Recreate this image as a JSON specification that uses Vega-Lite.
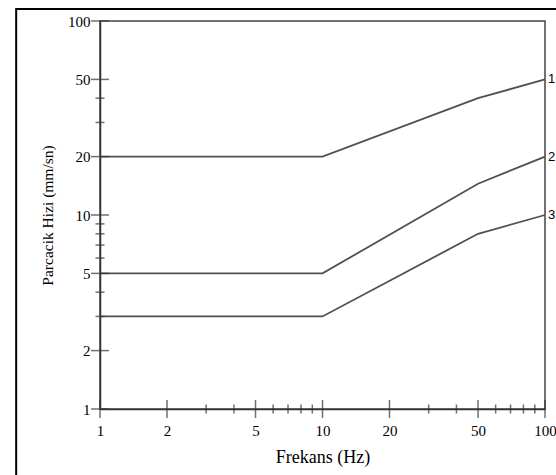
{
  "$schema": "https://vega.github.io/schema/vega-lite/v6.json",
  "width": 445,
  "height": 388,
  "autosize": {"type": "none"},
  "padding": {"left": 100, "top": 21, "right": 11, "bottom": 66},
  "background": "white",
  "config": {
    "view": {"stroke": "#444", "strokeWidth": 1.5},
    "axis": {
      "grid": false,
      "ticks": false,
      "tickSize": 0,
      "domainColor": "#333",
      "domainWidth": 1.5,
      "labelFont": "Liberation Serif",
      "labelColor": "black",
      "labelFontSize": 15,
      "labelOverlap": false,
      "labelFlush": false,
      "titleFont": "Liberation Serif",
      "titleColor": "black",
      "titleFontWeight": "normal"
    }
  },
  "datasets": {
    "lines": [
      {"series": "1", "freq": 1, "v": 20},
      {"series": "1", "freq": 10, "v": 20},
      {"series": "1", "freq": 50, "v": 40},
      {"series": "1", "freq": 100, "v": 50},
      {"series": "2", "freq": 1, "v": 5},
      {"series": "2", "freq": 10, "v": 5},
      {"series": "2", "freq": 50, "v": 14.5},
      {"series": "2", "freq": 100, "v": 20},
      {"series": "3", "freq": 1, "v": 3},
      {"series": "3", "freq": 10, "v": 3},
      {"series": "3", "freq": 50, "v": 8},
      {"series": "3", "freq": 100, "v": 10}
    ],
    "yticks": [
      {"v": 1, "kind": "major"}, {"v": 2, "kind": "major"}, {"v": 3, "kind": "minor"},
      {"v": 4, "kind": "minor"}, {"v": 5, "kind": "major"}, {"v": 6, "kind": "minor"},
      {"v": 7, "kind": "minor"}, {"v": 8, "kind": "minor"}, {"v": 9, "kind": "minor"},
      {"v": 10, "kind": "major"}, {"v": 20, "kind": "major"}, {"v": 30, "kind": "minor"},
      {"v": 40, "kind": "minor"}, {"v": 50, "kind": "major"}, {"v": 100, "kind": "major"}
    ],
    "xticks": [
      {"v": 1, "kind": "major"}, {"v": 2, "kind": "major"}, {"v": 3, "kind": "minor"},
      {"v": 4, "kind": "minor"}, {"v": 5, "kind": "major"}, {"v": 6, "kind": "minor"},
      {"v": 7, "kind": "minor"}, {"v": 8, "kind": "minor"}, {"v": 9, "kind": "minor"},
      {"v": 10, "kind": "major"}, {"v": 20, "kind": "major"}, {"v": 30, "kind": "minor"},
      {"v": 40, "kind": "minor"}, {"v": 50, "kind": "major"}, {"v": 60, "kind": "minor"},
      {"v": 70, "kind": "minor"}, {"v": 80, "kind": "minor"}, {"v": 90, "kind": "minor"},
      {"v": 100, "kind": "major"}
    ]
  },
  "layer": [
    {
      "data": {"name": "lines"},
      "mark": {"type": "line", "color": "#505050", "strokeWidth": 1.8},
      "encoding": {
        "x": {
          "field": "freq", "type": "quantitative",
          "scale": {"type": "log", "domain": [1, 100], "nice": false},
          "title": "Frekans (Hz)",
          "axis": {"values": [1, 2, 5, 10, 20, 50, 100], "format": "d", "labelPadding": 14, "titleFontSize": 18, "titlePadding": 10}
        },
        "y": {
          "field": "v", "type": "quantitative",
          "scale": {"type": "log", "domain": [1, 100], "nice": false},
          "title": "Parcacik Hizi (mm/sn)",
          "axis": {"values": [1, 2, 5, 10, 20, 50, 100], "format": "d", "labelPadding": 10, "titleFontSize": 15.5, "titlePadding": 12}
        },
        "detail": {"field": "series", "type": "nominal"}
      }
    },
    {
      "data": {"name": "lines"},
      "transform": [{"filter": "datum.freq === 100"}],
      "mark": {"type": "text", "align": "left", "baseline": "middle", "dx": 3, "font": "Liberation Sans", "fontSize": 13, "color": "black"},
      "encoding": {
        "x": {"field": "freq", "type": "quantitative", "scale": {"type": "log", "domain": [1, 100], "nice": false}, "title": "Frekans (Hz)"},
        "y": {"field": "v", "type": "quantitative", "scale": {"type": "log", "domain": [1, 100], "nice": false}, "title": "Parcacik Hizi (mm/sn)"},
        "text": {"field": "series", "type": "nominal"}
      }
    },
    {
      "data": {"name": "yticks"},
      "mark": {"type": "tick", "orient": "horizontal", "thickness": 1.5, "color": "#333"},
      "encoding": {
        "y": {"field": "v", "type": "quantitative", "scale": {"type": "log", "domain": [1, 100], "nice": false}, "title": "Parcacik Hizi (mm/sn)"},
        "x": {"datum": 1, "type": "quantitative", "scale": {"type": "log", "domain": [1, 100], "nice": false}, "title": "Frekans (Hz)"},
        "size": {"field": "kind", "type": "nominal", "scale": {"domain": ["major", "minor"], "range": [18, 9]}, "legend": null}
      }
    },
    {
      "data": {"name": "xticks"},
      "mark": {"type": "tick", "orient": "vertical", "thickness": 1.5, "color": "#333"},
      "encoding": {
        "x": {"field": "v", "type": "quantitative", "scale": {"type": "log", "domain": [1, 100], "nice": false}, "title": "Frekans (Hz)"},
        "y": {"datum": 1, "type": "quantitative", "scale": {"type": "log", "domain": [1, 100], "nice": false}, "title": "Parcacik Hizi (mm/sn)"},
        "size": {"field": "kind", "type": "nominal", "scale": {"domain": ["major", "minor"], "range": [18, 9]}, "legend": null}
      }
    },
    {
      "data": {"values": [{}]},
      "mark": {"type": "rect", "filled": false, "stroke": "black", "strokeWidth": 2},
      "encoding": {
        "x": {"datum": 0.42, "type": "quantitative", "scale": {"type": "log", "domain": [1, 100], "nice": false}, "title": "Frekans (Hz)"},
        "x2": {"datum": 300},
        "y": {"datum": 115.3, "type": "quantitative", "scale": {"type": "log", "domain": [1, 100], "nice": false}, "title": "Parcacik Hizi (mm/sn)"},
        "y2": {"datum": 0.1}
      }
    }
  ]
}
